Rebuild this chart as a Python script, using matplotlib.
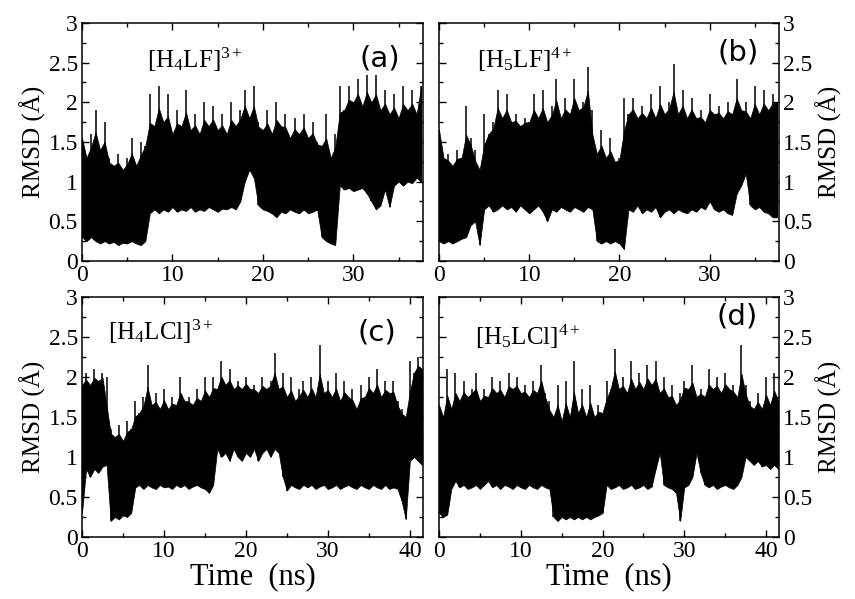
import numpy as np
import matplotlib

matplotlib.use("Agg")
import matplotlib.pyplot as plt
from matplotlib.ticker import MultipleLocator

plt.rcParams["font.family"] = ["Liberation Serif", "DejaVu Serif"]
plt.rcParams["mathtext.fontset"] = "custom"
plt.rcParams["mathtext.rm"] = "Liberation Serif"
plt.rcParams["mathtext.it"] = "Liberation Serif:italic"

# time axes (ns), envelope values read every 0.5 ns
T_AB = np.arange(0, 38, 0.5)
T_CD = np.arange(0, 42, 0.5)
XMAX_AB = 37.7
XMAX_CD = 41.6

# (a) [H4LF]3+
A_UPPER = [
    1.55, 1.3, 1.6, 1.9, 1.4, 1.75, 1.3, 1.2, 1.35, 1.15,
    1.3, 1.55, 1.2, 1.5, 1.45, 2.1, 1.7, 2.2, 1.75, 2.1,
    1.6, 1.9, 1.7, 2.15, 1.65, 1.85, 1.6, 2.0, 1.7, 1.95,
    1.65, 1.85, 1.6, 2.0, 1.7, 1.9, 2.15, 1.8, 2.2, 1.75,
    1.65, 1.9, 1.6, 2.0, 1.7, 1.85, 1.55, 1.8, 1.6, 1.85,
    1.55, 1.75, 1.5, 1.45, 1.85, 1.3, 1.6, 2.2, 1.9, 2.2,
    2.0, 2.3, 1.95, 2.35, 2.0, 2.35, 1.9, 2.15, 1.85, 2.1,
    1.8, 2.2, 1.9, 2.15, 1.85, 2.2,
]
A_LOWER = [
    0.3, 0.25, 0.3, 0.25, 0.22, 0.25, 0.22, 0.24, 0.2, 0.23,
    0.22, 0.25, 0.22, 0.2, 0.25, 0.6, 0.65, 0.6, 0.65, 0.62,
    0.68, 0.62, 0.65, 0.63, 0.68, 0.62, 0.65, 0.63, 0.68, 0.65,
    0.62, 0.66, 0.65, 0.68, 0.65, 0.75, 1.0, 1.15, 1.05, 0.7,
    0.65, 0.63, 0.6, 0.55, 0.62, 0.6, 0.65, 0.62, 0.6, 0.65,
    0.6, 0.62, 0.65, 0.3, 0.25, 0.22, 0.2, 0.95, 0.9, 0.92,
    0.88, 0.9, 0.92, 0.85, 0.75, 0.65, 0.7, 0.9, 0.68, 0.95,
    1.0, 0.95, 1.0, 0.98, 1.05, 1.0,
]

# (b) [H5LF]4+
B_UPPER = [
    1.65, 1.3, 1.35, 1.2, 1.4, 1.3, 1.95, 1.55, 1.4, 1.15,
    1.85, 1.6, 1.75, 2.15, 1.8, 2.1, 1.75, 1.85, 1.7, 1.8,
    1.75, 2.1, 1.8, 2.15, 1.75, 1.95, 2.3, 1.8, 2.05, 1.85,
    2.3, 1.9, 2.0, 2.45, 1.9, 1.35, 1.65, 1.3, 1.55, 1.25,
    1.3, 2.05, 1.85, 2.05, 1.8, 1.95, 1.8, 2.1, 1.8, 2.2,
    1.85, 2.0, 2.48, 1.85, 2.15, 1.8, 2.05, 1.8, 1.9, 1.75,
    2.1, 1.85, 1.95, 1.8, 2.0, 1.85, 2.3, 1.9, 2.0, 1.8,
    2.2, 1.85, 2.15, 1.9, 2.1, 2.0,
]
B_LOWER = [
    0.25, 0.22, 0.25, 0.22, 0.25, 0.28, 0.3, 0.45, 0.5, 0.2,
    0.65, 0.7, 0.62, 0.65, 0.7, 0.65, 0.68, 0.62, 0.7, 0.65,
    0.6, 0.65, 0.7, 0.62, 0.5, 0.65, 0.62, 0.68, 0.65, 0.62,
    0.68, 0.65, 0.62, 0.68, 0.65, 0.25, 0.22, 0.25, 0.22, 0.25,
    0.22, 0.15, 0.65, 0.62, 0.7, 0.6, 0.65, 0.62, 0.68, 0.55,
    0.62, 0.65, 0.6, 0.65, 0.62, 0.6, 0.65, 0.62, 0.68, 0.65,
    0.75, 0.65, 0.62, 0.65, 0.6, 0.58, 0.85, 0.95, 1.1, 0.7,
    0.65, 0.68, 0.62, 0.6, 0.55, 0.55,
]

# (c) [H4LCl]3+
C_UPPER = [
    1.9, 2.05, 1.9, 2.1, 1.95, 2.05, 2.0, 1.35, 1.25, 1.4,
    1.2, 1.45, 1.35, 1.7, 1.55, 1.75, 2.15, 1.65, 1.8, 1.6,
    1.85, 1.6, 1.75, 1.65, 2.0, 1.7, 1.75, 1.65, 1.85, 1.7,
    2.0, 1.75, 2.0, 1.85, 2.2, 1.9, 2.1, 1.85, 1.95, 1.85,
    2.0, 1.85, 1.9, 1.8, 2.0, 1.85, 1.95, 2.3, 1.85, 2.05,
    1.75, 2.0, 1.7, 1.85, 1.95, 1.75, 2.0, 1.75, 2.4, 1.8,
    1.95, 1.75, 2.05, 1.7, 1.95, 1.75, 1.85, 1.6, 1.9, 1.75,
    2.0, 1.8, 2.1, 1.75, 1.95, 1.8, 1.95, 1.7, 1.6, 1.5,
    2.2, 2.05, 2.25, 2.1,
]
C_LOWER = [
    0.3, 0.85, 0.75, 0.85, 0.8, 0.88, 0.9, 0.2, 0.25, 0.22,
    0.27, 0.25, 0.3, 0.62, 0.65, 0.6, 0.65, 0.62, 0.6, 0.65,
    0.62, 0.63, 0.6, 0.65, 0.62, 0.65, 0.6, 0.63, 0.65, 0.62,
    0.6, 0.55, 0.65, 1.1, 1.0, 1.05, 0.95, 1.1, 1.0, 0.95,
    1.05, 1.0, 1.1, 0.95, 1.05, 1.1, 1.0, 1.1, 1.05, 0.75,
    0.58, 0.65, 0.62, 0.6, 0.65, 0.62, 0.65, 0.6, 0.63, 0.65,
    0.6, 0.62, 0.65, 0.6, 0.63, 0.65, 0.62, 0.6, 0.65, 0.62,
    0.6, 0.65, 0.62, 0.6, 0.65, 0.6, 0.62, 0.6, 0.45, 0.22,
    0.95, 1.0, 0.95, 0.9,
]

# (d) [H5LCl]4+
D_UPPER = [
    1.65, 1.5, 2.1, 1.6, 2.05, 1.7, 1.95, 1.75, 1.85, 2.05,
    1.7, 1.85, 1.75, 2.0, 1.8, 1.95, 1.75, 2.05, 1.85, 2.0,
    1.8, 1.9, 1.75, 1.95, 1.8, 2.15, 1.8, 1.7, 1.5, 1.9,
    1.45, 1.95, 1.5, 2.2, 1.55, 1.85, 1.5, 1.9, 1.5, 1.65,
    1.55, 1.95, 1.85, 2.35, 1.85, 2.0, 1.8, 2.2, 1.85, 2.05,
    1.85, 2.15, 1.9, 2.2, 1.8, 2.0, 1.75, 1.9, 1.65, 1.8,
    1.95, 1.85, 2.15, 1.75, 1.85, 1.75, 2.1, 1.85, 2.0, 1.8,
    2.05, 1.85, 1.9, 1.75, 2.4, 1.9, 1.7, 1.6, 1.8, 1.6,
    2.0, 1.65, 2.05, 1.7,
]
D_LOWER = [
    0.3, 0.25, 0.28, 0.6, 0.7, 0.62, 0.65, 0.6, 0.62, 0.65,
    0.6, 0.65, 0.7, 0.62, 0.65, 0.6, 0.65, 0.63, 0.6, 0.65,
    0.62, 0.6, 0.65, 0.62, 0.6, 0.65, 0.62, 0.6, 0.25, 0.2,
    0.25, 0.22, 0.25, 0.22, 0.25, 0.22, 0.25, 0.22, 0.25, 0.27,
    0.3, 0.65, 0.6, 0.62, 0.65, 0.6, 0.62, 0.65, 0.6, 0.62,
    0.65, 0.6, 0.63, 0.85, 1.05, 0.65, 0.62, 0.6, 0.55, 0.2,
    0.62, 0.65, 0.75, 1.05, 0.8, 0.65, 0.62, 0.65, 0.6, 0.63,
    0.65, 0.62, 0.6, 0.65, 0.75, 1.0, 0.95, 0.9, 0.95, 0.88,
    0.9, 0.85, 0.9, 0.85,
]

SPECIES = [r"[H$_4$LF]$^{3+}$", r"[H$_5$LF]$^{4+}$",
           r"[H$_4$LCl]$^{3+}$", r"[H$_5$LCl]$^{4+}$"]
TAGS = ["(a)", "(b)", "(c)", "(d)"]


def style_axis(ax, xmax, right=False, bottom=False):
    ax.set_xlim(0, xmax)
    ax.set_ylim(0, 3)
    ax.xaxis.set_major_locator(MultipleLocator(10))
    ax.xaxis.set_minor_locator(MultipleLocator(5))
    ax.yaxis.set_minor_locator(MultipleLocator(0.25))
    ax.set_yticks([0, 0.5, 1, 1.5, 2, 2.5, 3])
    ax.set_yticklabels(["0", "0.5", "1", "1.5", "2", "2.5", "3"])
    ax.tick_params(which="both", direction="in", top=True, right=True,
                   labelsize=17, width=1.0)
    ax.tick_params(which="major", length=5, pad=3)
    ax.tick_params(which="minor", length=3)
    for s in ax.spines.values():
        s.set_linewidth(1.1)
    if right:
        ax.yaxis.tick_right()
        ax.yaxis.set_label_position("right")
        ax.tick_params(which="both", left=True)
    ax.set_ylabel("RMSD (Å)", fontsize=18, labelpad=2)
    if bottom:
        ax.set_xlabel("Time  (ns)", fontsize=22, labelpad=0)


def draw_trace(ax, t, lo, hi):
    lo = np.array(lo)
    hi = np.array(hi)
    # solid band with a jagged top, thin spikes reaching the read peaks
    floor = hi.copy()
    floor[1:-1] = np.minimum(np.minimum(hi[:-2], hi[1:-1]), hi[2:])
    core = 0.45 * hi + 0.55 * floor
    ax.fill_between(t, lo, core, color="black", linewidth=0.5, edgecolor="black")
    ax.vlines(t, lo, hi, color="black", linewidth=1.1)


fig = plt.figure(figsize=(8.55, 5.99), dpi=100)

panels = [
    ([0.0959, 0.5643, 0.3988, 0.3973], T_AB, A_LOWER, A_UPPER, XMAX_AB, False, False),
    ([0.5135, 0.5643, 0.3977, 0.3973], T_AB, B_LOWER, B_UPPER, XMAX_AB, True, False),
    ([0.0959, 0.1035, 0.3988, 0.4007], T_CD, C_LOWER, C_UPPER, XMAX_CD, False, True),
    ([0.5135, 0.1035, 0.3977, 0.4007], T_CD, D_LOWER, D_UPPER, XMAX_CD, True, True),
]
label_pos = [(0.19, 0.81), (0.112, 0.81), (0.076, 0.82), (0.106, 0.80)]
tag_pos = [(0.874, 0.85), (0.88, 0.874), (0.866, 0.85), (0.876, 0.917)]

for i, (rect, t, lo, hi, xmax, right, bottom) in enumerate(panels):
    ax = fig.add_axes(rect)
    draw_trace(ax, t, lo, hi)
    style_axis(ax, xmax, right=right, bottom=bottom)
    ax.text(label_pos[i][0], label_pos[i][1], SPECIES[i], transform=ax.transAxes,
            fontsize=18, ha="left", va="baseline")
    ax.text(tag_pos[i][0], tag_pos[i][1], TAGS[i], transform=ax.transAxes,
            fontsize=21, ha="center", va="center", family="DejaVu Sans")

fig.savefig("out.png", dpi=100)
